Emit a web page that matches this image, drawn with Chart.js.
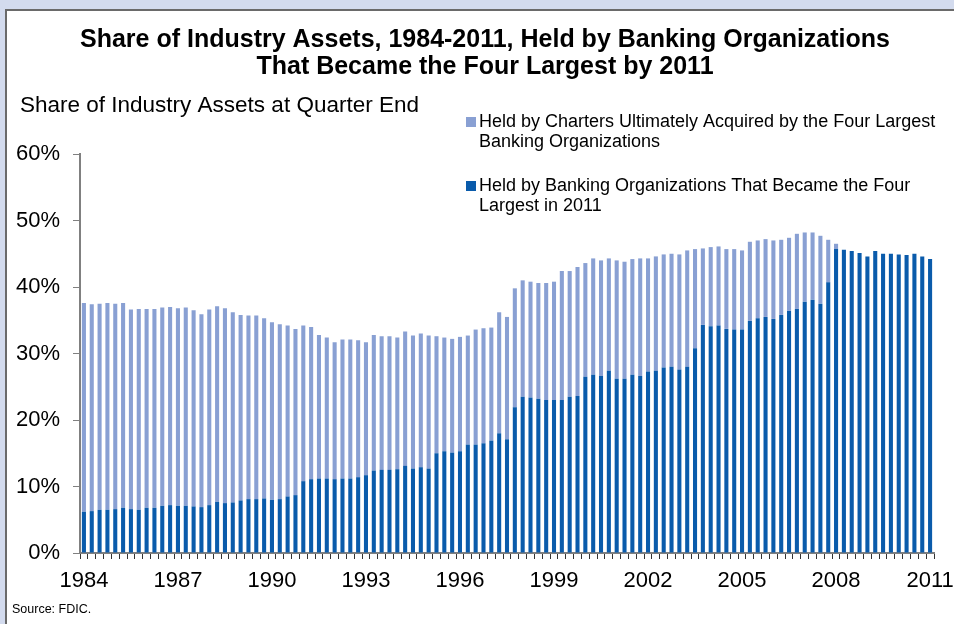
<!DOCTYPE html>
<html>
<head>
<meta charset="utf-8">
<script src="https://cdn.jsdelivr.net/npm/chart.js@4"></script>
<style>
  html, body { margin: 0; padding: 0; }
  body { width: 954px; height: 624px; background: #d3dbee; position: relative; overflow: hidden; }
  #panel { position: absolute; left: 5px; top: 9px; width: 970px; height: 640px; background: #fff; border: 2px solid #6a6a6a; }
  #wrap { position: absolute; left: 0; top: 0; width: 954px; height: 624px; }
</style>
</head>
<body>
<div id="panel"></div>
<div id="wrap"><canvas id="assetsChart" width="954" height="624"></canvas></div>
<script>
// quarterly, 1984Q1 .. 2011Q1
const startYear = 1984;
const quarterCount = 109;
const quarters = [];
for (let i = 0; i < quarterCount; i++) {
  quarters.push((startYear + Math.floor(i / 4)) + 'Q' + (i % 4 + 1));
}

const tickYears = ['1984', '1987', '1990', '1993', '1996', '1999', '2002', '2005', '2008', '2011'];

// share held by the organizations that became the four largest (%)
const heldByBig4 = [
  6.2, 6.3, 6.5, 6.5, 6.6, 6.8, 6.6, 6.5, 6.8, 6.8, 7.1, 7.2,
  7.1, 7.1, 7.0, 6.9, 7.2, 7.7, 7.5, 7.6, 7.9, 8.1, 8.1, 8.2,
  8.0, 8.1, 8.5, 8.7, 10.8, 11.1, 11.2, 11.2, 11.1, 11.2, 11.2, 11.4,
  11.7, 12.4, 12.5, 12.5, 12.6, 13.1, 12.7, 12.9, 12.7, 15.0, 15.3, 15.1,
  15.3, 16.3, 16.3, 16.5, 16.9, 18.0, 17.1, 21.9, 23.5, 23.4, 23.2, 23.0,
  23.0, 23.0, 23.5, 23.6, 26.5, 26.8, 26.6, 27.4, 26.2, 26.2, 26.8, 26.6,
  27.3, 27.4, 27.9, 28.0, 27.6, 28.0, 30.8, 34.3, 34.1, 34.2, 33.7, 33.6,
  33.6, 34.9, 35.3, 35.5, 35.2, 35.8, 36.4, 36.7, 37.8, 38.1, 37.5, 40.7,
  45.7, 45.6, 45.4, 45.1, 44.6, 45.4, 45.0, 45.0, 44.9, 44.8, 45.0, 44.6,
  44.2
];

// share held by charters later acquired by them (%)
const heldByAcquired = [
  31.4, 31.1, 31.0, 31.1, 30.9, 30.8, 30.0, 30.2, 29.9, 29.9, 29.8, 29.8,
  29.7, 29.8, 29.5, 29.0, 29.4, 29.4, 29.3, 28.6, 27.9, 27.6, 27.6, 27.1,
  26.7, 26.3, 25.7, 25.0, 23.4, 22.9, 21.6, 21.2, 20.6, 20.9, 20.9, 20.6,
  20.0, 20.4, 20.1, 20.1, 19.8, 20.2, 20.0, 20.1, 20.0, 17.6, 17.1, 17.1,
  17.2, 16.4, 17.3, 17.3, 17.0, 18.2, 18.4, 17.9, 17.5, 17.4, 17.4, 17.6,
  17.8, 19.4, 18.9, 19.4, 17.1, 17.5, 17.4, 16.9, 17.8, 17.6, 17.4, 17.7,
  17.0, 17.2, 17.0, 17.0, 17.3, 17.5, 14.9, 11.5, 11.9, 11.9, 12.0, 12.1,
  11.9, 11.9, 11.7, 11.7, 11.8, 11.3, 11.0, 11.3, 10.4, 10.1, 10.2, 6.4,
  0.8, 0, 0, 0, 0, 0, 0, 0, 0, 0, 0, 0,
  0
];

const titleLines = ['Share of Industry Assets, 1984-2011, Held by Banking Organizations', 'That Became the Four Largest by 2011'];
const darkBlue = '#0a5bab';
const lightBlue = '#89a0d3';
const font = '"Liberation Sans", Arial, sans-serif';

// title, legend and side texts drawn at fixed spots like the original
const extraText = {
  id: 'extraText',
  afterDraw(chart) {
    const c = chart.ctx;
    c.save();
    c.fillStyle = '#000';
    c.textBaseline = 'middle';

    c.textAlign = 'center';
    c.font = 'bold 25px ' + font;
    titleLines.forEach((t, k) => c.fillText(t, 485, 40 + k * 27));

    c.textAlign = 'left';
    c.font = '22.5px ' + font;
    c.fillText('Share of Industry Assets at Quarter End', 20, 106);

    c.font = '12.5px ' + font;
    c.fillText('Source: FDIC.', 12, 610);

    const items = [
      { ds: 1, y: 122, lines: ['Held by Charters Ultimately Acquired by the Four Largest', 'Banking Organizations'] },
      { ds: 0, y: 186, lines: ['Held by Banking Organizations That Became the Four', 'Largest in 2011'] }
    ];
    c.font = '18px ' + font;
    items.forEach(it => {
      c.fillStyle = chart.data.datasets[it.ds].backgroundColor;
      c.fillRect(466, it.y - 5, 10, 10);
      c.fillStyle = '#000';
      it.lines.forEach((t, k) => c.fillText(t, 479, it.y + k * 20.5));
    });
    c.restore();
  }
};

const ctx = document.getElementById('assetsChart').getContext('2d');
const assetsChart = new Chart(ctx, {
  type: 'bar',
  data: {
    labels: quarters,
    datasets: [{
      label: 'Held by Banking Organizations That Became the Four Largest in 2011',
      data: heldByBig4,
      backgroundColor: darkBlue,
      barPercentage: 0.52,
      categoryPercentage: 1.0
    }, {
      label: 'Held by Charters Ultimately Acquired by the Four Largest Banking Organizations',
      data: heldByAcquired,
      backgroundColor: lightBlue,
      barPercentage: 0.52,
      categoryPercentage: 1.0
    }]
  },
  options: {
    responsive: false,
    animation: false,
    layout: { padding: { left: 15, right: 20, top: 154, bottom: 31 } },
    plugins: {
      legend: { display: false },
      tooltip: { enabled: false },
      title: { display: false }
    },
    scales: {
      x: {
        stacked: true,
        border: { color: '#808080', width: 2 },
        grid: { display: true, drawOnChartArea: false, offset: true, tickLength: 6, color: '#333' },
        ticks: {
          autoSkip: false,
          maxRotation: 0,
          color: '#000',
          padding: 9,
          font: { family: font, size: 22 },
          callback: function (val, i) {
            const q = quarters[i];
            const yr = q.slice(0, 4);
            return q.endsWith('Q1') && tickYears.includes(yr) ? yr : '';
          }
        },
        afterFit: s => { s.height = 40; s.paddingLeft = 0; s.paddingRight = 0; }
      },
      y: {
        stacked: true,
        min: 0,
        max: 60,
        border: { color: '#808080', width: 2 },
        grid: { drawOnChartArea: false, tickLength: 7, color: '#808080' },
        ticks: {
          stepSize: 10,
          color: '#000',
          padding: 13,
          font: { family: font, size: 22 },
          callback: v => v + '%'
        },
        afterFit: s => { s.width = 65; s.paddingTop = 0; s.paddingBottom = 0; }
      }
    }
  },
  plugins: [extraText]
});
</script>
</body>
</html>
